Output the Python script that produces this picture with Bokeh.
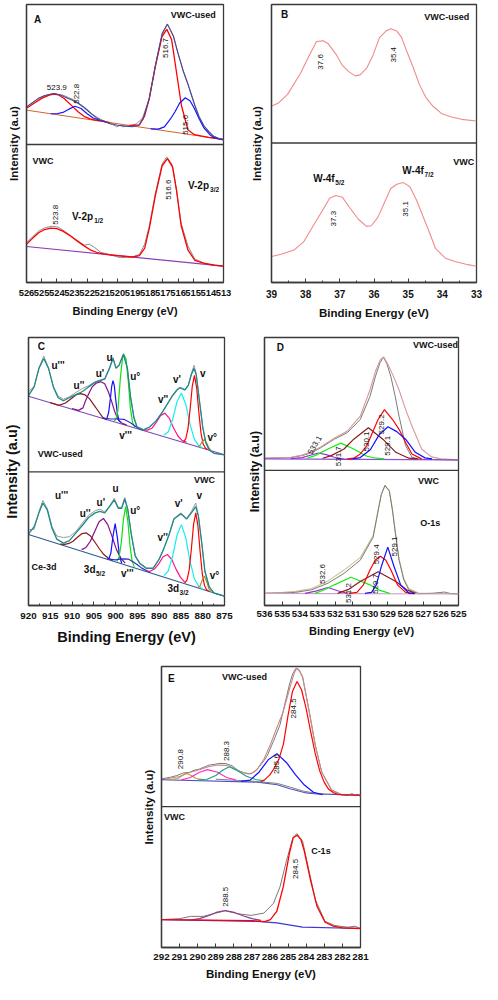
import math
from bokeh.plotting import figure
from bokeh.layouts import column, row
from bokeh.models import Range1d, FixedTicker, Span, Label, Spacer
from bokeh.embed import file_html
from bokeh.resources import INLINE

FONT = "Liberation Sans"
FRAME = "#3a3a3a"

# ---------------- Panel A : V-2p (eV, intensity a.u.) ----------------
a_ticks = [526, 525, 524, 523, 522, 521, 520, 519, 518, 517, 516, 515, 514, 513]
a_top_bg = [(526, 527), (513, 437)]
a_top_raw = [(526.0, 537), (525.6, 550), (525.2, 564), (524.5, 575), (524.2, 578), (523.9, 574), (523.6, 573),
             (523.25, 566), (522.9, 559), (522.6, 550), (522.3, 540), (522.0, 529), (521.65, 514), (521.3, 504),
             (520.9, 494), (520.5, 485), (520.3, 483), (520.05, 476), (519.8, 481), (519.6, 476), (519.4, 480),
             (519.2, 478), (518.75, 485), (518.35, 502), (517.9, 562), (517.5, 662), (517.05, 757), (516.7, 790),
             (516.3, 754), (516.0, 702), (515.65, 647), (515.35, 607), (514.9, 544), (514.6, 507), (514.3, 479),
             (513.95, 462), (513.65, 447), (513.3, 440), (513.0, 434)]
a_top_env = [(526.0, 537), (525.6, 550), (525.2, 563), (524.8, 572), (524.2, 578), (523.8, 574), (523.4, 566),
             (523.0, 558), (522.6, 548), (522.2, 535), (521.8, 519), (521.4, 504), (521.0, 493), (520.5, 486),
             (520.0, 481), (519.5, 478), (519.0, 476), (518.6, 480), (518.3, 500), (517.9, 562), (517.5, 662),
             (517.05, 762), (516.7, 790), (516.3, 752), (516.0, 700), (515.65, 645), (515.35, 607), (514.9, 542),
             (514.6, 505), (514.3, 480), (513.95, 460), (513.65, 447), (513.3, 440), (513.0, 437)]
a_top_p1 = [(526.0, 533), (525.5, 548), (525.0, 563), (524.5, 573), (524.2, 576), (523.9, 574), (523.5, 562),
            (523.0, 540), (522.6, 522), (522.2, 508), (521.8, 500), (521.4, 496), (521.0, 494), (520.5, 489)]
a_top_p2 = [(524.4, 516), (524.0, 516), (523.6, 520), (523.2, 530), (522.8, 539), (522.4, 532), (522.0, 516),
            (521.6, 503), (521.2, 496), (520.8, 492)]
a_top_p3 = [(519.2, 480), (518.55, 482), (518.2, 510), (517.9, 562), (517.5, 660), (517.06, 752), (516.74, 774),
            (516.42, 742), (516.1, 642), (515.78, 542), (515.35, 467), (514.92, 452), (514.5, 448), (514.0, 444),
            (513.5, 441), (513.0, 437)]
a_top_p4 = [(517.8, 470), (517.3, 469), (516.9, 476), (516.5, 500), (516.2, 522), (515.9, 548), (515.52, 565),
            (515.2, 555), (514.92, 532), (514.6, 500), (514.28, 472), (513.9, 452), (513.64, 443), (513.3, 439),
            (513.0, 437)]
a_bot_bg = [(526, 110), (513, 50)]
a_bot_raw = [(526.0, 122), (525.6, 140), (525.2, 157), (524.75, 168), (524.3, 172), (523.9, 169), (523.5, 157),
             (523.1, 144), (522.6, 127), (522.2, 114), (521.85, 117), (521.5, 107), (521.1, 92), (520.7, 88),
             (520.3, 82), (519.8, 76), (519.4, 77), (519.0, 78), (518.55, 86), (518.2, 117), (517.9, 172),
             (517.5, 272), (517.05, 362), (516.75, 384), (516.4, 362), (516.1, 282), (515.8, 182), (515.35, 112),
             (514.9, 72), (514.3, 59), (513.65, 52), (513.0, 50)]
a_bot_fit = [(526.0, 117), (525.6, 135), (525.2, 152), (524.8, 162), (524.4, 166), (524.0, 165), (523.6, 157),
             (523.1, 142), (522.6, 125), (522.2, 112), (521.8, 100), (521.3, 91), (520.9, 87), (520.0, 82),
             (519.0, 78), (518.55, 82), (518.2, 105), (517.9, 165), (517.5, 265), (517.05, 357), (516.7, 379),
             (516.35, 352), (516.1, 282), (515.8, 175), (515.35, 100), (514.9, 68), (514.3, 59), (513.6, 53),
             (513.0, 50)]

# ---------------- Panel B : W-4f ----------------
b_ticks = [39, 38, 37, 36, 35, 34, 33]
b_minor = [38.5, 37.5, 36.5, 35.5, 34.5, 33.5]
b_top = [(39.0, 543), (38.8, 553), (38.53, 580), (38.15, 645), (37.87, 705), (37.68, 743), (37.49, 745),
         (37.35, 737), (37.12, 705), (36.93, 670), (36.74, 650), (36.55, 637), (36.41, 640), (36.22, 660),
         (36.03, 700), (35.84, 755), (35.65, 775), (35.51, 782), (35.33, 775), (35.19, 755), (35.05, 715),
         (34.86, 665), (34.67, 610), (34.48, 570), (34.29, 545), (34.01, 520), (33.73, 510), (33.44, 503),
         (33.0, 498)]
b_bot = [(39.0, 80), (38.72, 87), (38.34, 100), (38.06, 125), (37.78, 175), (37.49, 225), (37.30, 260),
         (37.12, 268), (36.93, 263), (36.74, 235), (36.46, 195), (36.22, 173), (36.08, 175), (35.89, 200),
         (35.70, 245), (35.51, 290), (35.33, 303), (35.14, 308), (34.95, 295), (34.76, 255), (34.57, 205),
         (34.38, 155), (34.20, 105), (33.91, 75), (33.63, 65), (33.25, 55), (33.0, 50)]

# ---------------- Panel C : Ce-3d ----------------
c_ticks = [920, 915, 910, 905, 900, 895, 890, 885, 880, 875]
c_minor = [917.5, 912.5, 907.5, 902.5, 897.5, 892.5, 887.5, 882.5, 877.5]
c_top_bg = [(920, 678), (875, 488)]
c_top_env = [(920.0, 680), (918.7, 708), (917.6, 768), (916.5, 800), (915.4, 768), (914.3, 708), (913.2, 673),
             (912.0, 663), (910.6, 673), (909.1, 683), (907.6, 693), (906.2, 708), (904.7, 723), (903.6, 728),
             (902.5, 733), (901.4, 768), (900.6, 800), (899.9, 768), (899.2, 778), (898.2, 813), (897.3, 768),
             (896.6, 678), (895.8, 608), (895.1, 578), (893.6, 568), (892.2, 578), (890.7, 598), (889.2, 628),
             (888.1, 653), (887.0, 678), (885.9, 698), (885.2, 705), (884.1, 698), (883.3, 713), (882.6, 748),
             (882.0, 768), (881.5, 748), (880.8, 668), (880.0, 578), (879.3, 528), (878.5, 503), (877.4, 493),
             (875.0, 488)]
c_top_raw = [(920.0, 693), (918.7, 710), (917.6, 770), (916.5, 808), (915.4, 770), (914.3, 710), (913.2, 678),
             (912.0, 668), (910.6, 676), (909.1, 690), (907.6, 703), (906.2, 712), (904.7, 725), (903.6, 730),
             (902.5, 735), (901.4, 770), (900.6, 803), (899.9, 770), (899.2, 780), (898.2, 816), (897.3, 770),
             (896.6, 680), (895.8, 610), (895.1, 580), (893.6, 570), (892.2, 578), (890.7, 598), (889.2, 628),
             (888.1, 653), (887.0, 680), (885.9, 700), (885.2, 707), (884.1, 700), (883.3, 715), (882.6, 752),
             (882.0, 778), (881.5, 752), (880.8, 670), (880.0, 578), (879.3, 528), (878.5, 503), (877.4, 493),
             (875.0, 488)]
c_top_u2 = [(915.0, 657), (913.0, 648), (911.5, 656), (910.0, 672), (909.0, 683), (908.0, 686), (907.0, 682),
            (906.0, 670), (905.0, 650), (904.0, 630), (903.0, 610), (902.0, 602)]
c_top_u1 = [(910.0, 638), (908.5, 632), (907.5, 640), (906.9, 663), (906.2, 685), (905.4, 708), (904.5, 720),
            (903.4, 725), (902.5, 718), (901.7, 693), (901.0, 665), (900.3, 632), (899.5, 603), (898.5, 590),
            (897.5, 585)]
c_top_u = [(902.5, 604), (902.0, 606), (901.6, 625), (901.2, 670), (900.9, 710), (900.6, 728), (900.3, 712),
           (900.0, 670), (899.6, 622), (899.2, 598), (898.8, 593)]
c_top_u0 = [(900.3, 597), (899.9, 605), (899.5, 628), (898.9, 738), (898.4, 803), (898.1, 813), (897.6, 798),
            (897.1, 728), (896.6, 638), (896.1, 593), (895.6, 578)]
c_top_v3 = [(903.0, 607), (901.0, 604), (899.5, 604), (898.1, 603), (896.5, 591), (895.0, 576), (893.6, 567)]
c_top_v2 = [(893.7, 568), (892.7, 568), (891.7, 574), (890.7, 592), (889.7, 615), (888.7, 623), (887.7, 607),
            (886.7, 575), (885.7, 549), (884.7, 534), (883.7, 529)]
c_top_v1 = [(888.9, 552), (887.9, 563), (886.9, 603), (885.9, 660), (884.9, 688), (883.9, 652), (882.9, 586),
            (881.9, 538), (880.9, 518), (880.0, 509)]
c_top_v = [(884.4, 531), (883.9, 540), (883.4, 571), (882.9, 635), (882.4, 710), (881.9, 745), (881.4, 706),
           (880.9, 627), (880.4, 559), (879.9, 523), (879.4, 510), (878.9, 505)]
c_top_v0 = [(881.1, 515), (880.6, 519), (880.1, 531), (879.6, 538), (879.1, 526), (878.6, 511), (878.1, 502)]

c_bot_bg = [(920, 230), (875, 30)]
c_bot_env = [(920.0, 232), (918.7, 255), (917.6, 300), (916.7, 332), (915.7, 310), (914.6, 250), (913.5, 215),
             (912.0, 202), (910.6, 210), (909.1, 235), (907.6, 260), (906.2, 285), (904.7, 300), (903.6, 305),
             (902.5, 300), (901.4, 320), (900.3, 342), (899.4, 315), (898.6, 315), (897.9, 345), (897.2, 310),
             (896.4, 230), (895.5, 160), (894.4, 135), (892.9, 120), (891.4, 120), (890.0, 150), (888.9, 185),
             (887.7, 230), (886.6, 280), (885.0, 297), (883.7, 280), (882.6, 300), (881.6, 320), (881.0, 290),
             (880.2, 200), (879.5, 110), (878.5, 60), (877.4, 40), (875.0, 30)]
c_bot_raw = [(920.0, 245), (918.7, 247), (917.6, 305), (916.7, 340), (915.7, 315), (914.6, 255), (913.5, 225),
             (912.0, 220), (910.6, 223), (909.1, 240), (907.6, 268), (906.2, 292), (904.7, 307), (903.6, 312),
             (902.5, 303), (901.4, 322), (900.3, 347), (899.4, 318), (898.6, 318), (897.9, 350), (897.2, 312),
             (896.4, 232), (895.5, 162), (894.4, 137), (892.9, 122), (891.4, 121), (890.0, 150), (888.9, 186),
             (887.7, 232), (886.6, 282), (885.0, 300), (883.7, 282), (882.6, 305), (881.6, 332), (881.0, 292),
             (880.2, 200), (879.5, 112), (878.5, 60), (877.4, 40), (875.0, 30)]
c_bot_u2 = [(912.7, 199), (911.7, 198), (910.7, 201), (909.7, 209), (908.7, 222), (907.7, 233), (906.7, 235),
            (905.7, 224), (904.7, 204), (903.7, 183), (902.7, 165), (901.7, 154), (900.7, 146)]
c_bot_u1 = [(907.8, 181), (906.8, 188), (905.8, 208), (904.8, 240), (903.8, 271), (902.8, 282), (901.8, 262),
            (900.8, 223), (899.8, 181), (898.8, 153), (897.8, 137)]
c_bot_u = [(901.6, 150), (901.1, 169), (900.6, 225), (900.1, 265), (899.6, 220), (899.1, 160), (898.6, 137)]
c_bot_u0 = [(899.7, 143), (899.2, 157), (898.7, 203), (898.2, 279), (897.7, 320), (897.2, 275), (896.7, 194),
            (896.2, 143), (895.7, 125)]
c_bot_v3 = [(902.0, 151), (900.0, 148), (899.0, 150), (898.0, 151), (897.0, 150), (896.0, 142), (895.0, 132),
            (894.0, 121), (892.0, 107)]
c_bot_v2 = [(893.1, 111), (892.1, 111), (891.1, 118), (890.1, 135), (889.1, 158), (888.1, 165), (887.1, 149),
            (886.1, 117), (885.1, 91), (884.1, 75)]
c_bot_v1 = [(888.9, 97), (887.9, 112), (886.9, 160), (885.9, 228), (884.9, 262), (883.9, 220), (882.9, 142),
            (881.9, 86), (880.9, 62), (879.9, 52)]
c_bot_v = [(884.1, 73), (883.6, 83), (883.1, 116), (882.6, 184), (882.1, 263), (881.6, 300), (881.1, 258),
           (880.6, 175), (880.1, 103), (879.6, 65), (879.1, 51), (878.6, 46)]
c_bot_v0 = [(881.1, 58), (880.6, 63), (880.1, 83), (879.6, 95), (879.1, 78), (878.6, 55), (878.1, 45)]

# ---------------- Panel D : O-1s ----------------
d_ticks = [536, 535, 534, 533, 532, 531, 530, 529, 528, 527, 526, 525]
d_top_bg = [(536, 447), (525, 444)]
d_top_raw = [(536.0, 449), (534.5, 451), (533.87, 457), (533.3, 466), (532.77, 482), (532.04, 507), (531.3, 527),
             (530.57, 567), (530.02, 637), (529.7, 700), (529.45, 740), (529.25, 757), (529.05, 735),
             (528.83, 697), (528.6, 640), (528.37, 577), (528.0, 487), (527.64, 452), (527.2, 446), (526.5, 445),
             (525.0, 443)]
d_top_env = [(536.0, 449), (534.5, 452), (533.87, 459), (533.3, 469), (532.77, 485), (532.04, 510), (531.3, 532),
             (530.57, 577), (530.02, 657), (529.7, 715), (529.45, 748), (529.25, 758), (529.0, 735), (528.7, 700),
             (528.37, 657), (528.0, 598), (527.64, 547), (527.09, 477), (526.54, 453), (526.0, 447), (525.0, 444)]
d_top_p1 = [(534.5, 448), (533.87, 451), (533.4, 458), (532.95, 465), (532.5, 460), (532.04, 452), (531.5, 446),
            (531.0, 445)]
d_top_p2 = [(533.6, 449), (533.14, 457), (532.4, 477), (531.67, 495), (530.94, 477), (530.2, 455), (529.66, 449),
            (529.2, 447)]
d_top_p3 = [(532.7, 449), (532.22, 457), (531.49, 477), (530.94, 507), (530.11, 542), (529.29, 507),
            (528.55, 467), (527.82, 449), (527.3, 447)]
d_top_p4 = [(531.3, 447), (530.94, 449), (530.57, 462), (530.2, 487), (529.84, 532), (529.56, 567), (529.2, 597),
            (528.74, 567), (528.37, 537), (528.0, 497), (527.64, 462), (527.09, 447)]
d_top_p5 = [(531.0, 447), (530.57, 451), (530.0, 475), (529.5, 520), (529.0, 545), (528.5, 530), (528.0, 507),
            (527.45, 467), (526.9, 450), (526.5, 447)]
d_bot_bg = [(536, 37), (525, 35)]
d_bot_raw = [(536.0, 37), (534.97, 38), (534.24, 40), (533.32, 48), (532.4, 68), (531.49, 98), (530.57, 138),
             (529.84, 208), (529.56, 288), (529.38, 338), (529.17, 366), (528.92, 348), (528.74, 288),
             (528.55, 208), (528.37, 138), (528.1, 78), (527.82, 48), (527.27, 36), (526.5, 37), (525.8, 41),
             (525.5, 37), (525.0, 35)]
d_bot_env = [(536.0, 38), (534.97, 40), (534.24, 43), (533.32, 52), (532.4, 75), (531.49, 108), (530.57, 146),
             (529.84, 213), (529.56, 290), (529.38, 338), (529.17, 366), (528.92, 350), (528.74, 292),
             (528.55, 212), (528.37, 142), (528.1, 82), (527.82, 52), (527.27, 38), (525.0, 36)]
d_bot_p1 = [(533.7, 37), (533.1, 44), (532.4, 55), (531.85, 45), (531.3, 37)]
d_bot_p2 = [(533.14, 37), (532.6, 48), (532.04, 63), (531.1, 86), (530.02, 63), (529.5, 47), (528.9, 37)]
d_bot_p3 = [(531.85, 37), (531.2, 50), (530.57, 73), (529.56, 103), (528.55, 73), (527.95, 48), (527.45, 37)]
d_bot_p4 = [(531.2, 37), (530.76, 40), (530.39, 63), (530.02, 108), (529.72, 138), (529.43, 150), (529.12, 138),
            (528.83, 108), (528.46, 63), (528.0, 40), (527.6, 37)]
d_bot_p5 = [(530.3, 37), (529.93, 40), (529.66, 63), (529.38, 118), (529.01, 178), (528.65, 118), (528.28, 63),
            (527.82, 38), (527.5, 36)]

# ---------------- Panel E : C-1s ----------------
e_ticks = [292, 291, 290, 289, 288, 287, 286, 285, 284, 283, 282, 281]
e_top_bg = [(292.0, 512), (286.7, 505), (285.6, 497), (284.9, 485), (284.0, 472), (283.4, 469), (281.0, 465)]
e_top_shirley = [(289.0, 514), (287.0, 508), (285.6, 501), (284.9, 490), (284.2, 478), (283.4, 470),
                 (283.0, 468)]
e_top_raw = [(292.0, 515), (291.5, 520), (291.15, 525), (290.8, 533), (290.43, 535), (290.26, 540), (289.9, 545),
             (289.37, 557), (289.0, 560), (288.83, 562), (288.48, 562), (288.1, 555), (287.76, 540), (287.4, 533),
             (287.05, 530), (286.7, 545), (286.34, 570), (286.16, 585), (285.81, 630), (285.45, 680),
             (285.09, 765), (284.92, 805), (284.74, 837), (284.56, 853), (284.38, 845), (284.2, 825),
             (283.85, 725), (283.49, 615), (283.14, 535), (282.6, 480), (282.07, 467), (281.71, 465),
             (281.45, 470), (281.3, 463), (281.15, 468), (281.0, 460)]
e_top_env = [(292.0, 512), (291.0, 522), (290.4, 535), (289.9, 543), (289.4, 552), (288.9, 557), (288.4, 556),
             (288.0, 548), (287.6, 536), (287.2, 530), (286.9, 535), (286.7, 545), (286.34, 575), (285.98, 620),
             (285.63, 670), (285.27, 720), (284.92, 790), (284.65, 840), (284.52, 853), (284.38, 847),
             (284.2, 827), (283.85, 725), (283.49, 615), (283.14, 535), (282.6, 482), (282.07, 468), (281.0, 465)]
e_top_p1 = [(291.6, 512), (291.1, 516), (290.85, 525), (290.65, 532), (290.35, 525), (290.1, 516), (289.6, 512)]
e_top_p2 = [(290.9, 512), (290.4, 519), (289.9, 535), (289.45, 543), (288.9, 535), (288.4, 519), (287.9, 512)]
e_top_p3 = [(290.0, 511), (289.5, 513), (289.0, 525), (288.6, 542), (288.25, 552), (287.8, 540), (287.3, 523),
            (286.8, 513), (286.3, 509)]
e_top_p4 = [(287.6, 507), (287.1, 511), (286.6, 536), (286.1, 573), (285.62, 592), (285.1, 565), (284.6, 528),
            (284.1, 496), (283.6, 474), (283.1, 467)]
e_top_p5 = [(286.5, 506), (286.26, 514), (286.01, 527), (285.76, 548), (285.51, 575), (285.26, 621),
            (285.01, 707), (284.76, 782), (284.51, 812), (284.26, 787), (284.01, 731), (283.76, 661),
            (283.51, 594), (283.26, 540), (283.01, 505), (282.76, 483), (282.51, 473), (282.26, 468),
            (282.0, 466), (281.0, 465)]
e_bot_bg = [(292.0, 85), (286.7, 80), (285.63, 75), (284.2, 62), (281.0, 58)]
e_bot_raw = [(292.0, 85), (291.0, 88), (290.4, 95), (289.7, 95), (289.0, 105), (288.48, 112), (287.76, 103),
             (287.05, 98), (286.34, 105), (285.81, 135), (285.45, 185), (285.09, 265), (284.74, 335),
             (284.52, 348), (284.2, 325), (283.85, 235), (283.49, 145), (282.96, 80), (282.42, 67), (281.71, 62),
             (281.3, 65), (281.0, 58)]
e_bot_fit = [(292.0, 85), (287.0, 82), (286.3, 79), (285.98, 85), (285.63, 110), (285.27, 185), (284.92, 290),
             (284.72, 335), (284.51, 343), (284.3, 330), (284.11, 295), (283.76, 205), (283.4, 125), (282.96, 77),
             (282.5, 65), (282.0, 60), (281.0, 58)]
e_bot_p1 = [(290.4, 84), (289.9, 88), (289.4, 97), (288.98, 107), (288.48, 113), (287.98, 107), (287.5, 97),
            (287.0, 88), (286.5, 83)]

# ---------------- text annotations (text, x, y, angle, size, bold, align) ----------------
a_notes = [("A", 525.5, 805, 0, 10, True, "left"), ("VWC-used", 515.0, 817, 0, 9, True, "center"),
           ("523.9", 524.0, 597, 0, 8, False, "center"), ("522.8", 522.67, 577, 90, 8, False, "center"),
           ("516.7", 516.8, 717, 90, 8, False, "center"), ("515.6", 515.52, 482, 90, 8, False, "center"),
           ("VWC", 525.6, 372, 0, 9, True, "left"), ("523.8", 524.1, 207, 90, 8, False, "center"),
           ("516.6", 516.63, 284, 90, 8, False, "center")]
a_subs = [("V-2p", "1/2", 523.0, 202), ("V-2p", "3/2", 515.35, 297)]
b_notes = [("B", 38.72, 827, 0, 10, True, "left"), ("VWC-used", 33.87, 820, 0, 9, True, "center"),
           ("37.6", 37.56, 680, 90, 8, False, "center"), ("35.4", 35.42, 702, 90, 8, False, "center"),
           ("VWC", 33.37, 373, 0, 9, True, "center"), ("37.3", 37.18, 197, 90, 8, False, "center"),
           ("35.1", 35.09, 227, 90, 8, False, "center")]
b_subs = [("W-4f", "5/2", 37.78, 320), ("W-4f", "7/2", 35.17, 345)]
c_notes = [("C", 917.9, 840, 0, 10, True, "left"), ("u'''", 913.2, 778, 0, 10, True, "center"),
           ("u''", 908.4, 713, 0, 10, True, "center"), ("u'", 903.6, 750, 0, 10, True, "center"),
           ("u", 901.4, 803, 0, 10, True, "center"), ("u°", 895.5, 743, 0, 10, True, "center"),
           ("v''", 889.1, 668, 0, 10, True, "center"), ("v'", 885.9, 733, 0, 10, True, "center"),
           ("v", 880.0, 750, 0, 10, True, "center"), ("v'''", 897.7, 550, 0, 10, True, "center"),
           ("v°", 877.8, 543, 0, 10, True, "center"), ("VWC-used", 917.9, 490, 0, 9, True, "left"),
           ("VWC", 879.6, 408, 0, 9, True, "center"), ("u'''", 912.4, 355, 0, 10, True, "center"),
           ("u''", 907.0, 298, 0, 10, True, "center"), ("u'", 903.4, 335, 0, 10, True, "center"),
           ("u", 900.0, 378, 0, 10, True, "center"), ("u°", 895.5, 308, 0, 10, True, "center"),
           ("v''", 889.2, 220, 0, 10, True, "center"), ("v'", 885.5, 330, 0, 10, True, "center"),
           ("v", 880.8, 355, 0, 10, True, "center"), ("Ce-3d", 919.3, 125, 0, 9, True, "left"),
           ("v'''", 897.3, 105, 0, 10, True, "center"), ("v°", 877.3, 98, 0, 10, True, "center")]
c_subs = [("3d", "5/2", 907.3, 115), ("3d", "3/2", 888.1, 55)]
d_notes = [("D", 535.3, 786, 0, 10, True, "left"), ("VWC-used", 526.3, 795, 0, 9, True, "center"),
           ("533.1", 533.14, 489, 60, 8, False, "center"), ("531.7", 531.82, 455, 90, 8, False, "center"),
           ("530.1", 530.24, 500, 90, 8, False, "center"), ("529.2", 529.35, 552, 90, 8, False, "center"),
           ("529.1", 529.0, 487, 90, 8, False, "center"), ("VWC", 526.7, 380, 0, 9, True, "center"),
           ("O-1s", 526.6, 253, 0, 9, True, "center"), ("532.6", 532.7, 96, 90, 8, False, "center"),
           ("531.2", 531.26, 38, 90, 8, False, "center"), ("529.7", 529.7, 66, 90, 8, False, "center"),
           ("529.4", 529.66, 156, 90, 8, False, "center"), ("529.1", 528.65, 180, 90, 8, False, "center")]
e_notes = [("E", 291.64, 820, 0, 10, True, "left"), ("VWC-used", 287.41, 825, 0, 9, True, "center"),
           ("290.8", 290.93, 575, 90, 8, False, "center"), ("288.3", 288.39, 600, 90, 8, False, "center"),
           ("285.6", 285.66, 560, 90, 8, False, "center"), ("284.5", 284.68, 730, 90, 8, False, "center"),
           ("VWC", 291.86, 397, 0, 9, True, "left"), ("C-1s", 283.19, 295, 0, 9, True, "center"),
           ("284.5", 284.61, 240, 90, 8, False, "center"), ("288.5", 288.48, 155, 90, 8, False, "center")]


def panel(width, height, borders, xr, yr, ticks, minor, xtitle_fs, ytitle_fs, tick_fs,
          tick_standoff, xlab_standoff, ylab_standoff, divider):
    l, r, t, b = borders
    p = figure(width=width, height=height, x_range=Range1d(*xr), y_range=Range1d(*yr),
               output_backend="svg", toolbar_location=None,
               min_border_left=l, min_border_right=r, min_border_top=t, min_border_bottom=b)
    p.xgrid.visible = False
    p.ygrid.visible = False
    p.background_fill_color = "white"
    p.border_fill_color = "white"
    p.outline_line_color = FRAME
    p.outline_line_width = 1.3
    p.outline_line_alpha = 1.0
    xa = p.xaxis[0]
    xa.ticker = FixedTicker(ticks=ticks, minor_ticks=minor)
    xa.axis_label = "Binding Energy (eV)"
    xa.axis_label_text_font = FONT
    xa.axis_label_text_font_style = "bold"
    xa.axis_label_text_font_size = f"{xtitle_fs}px"
    xa.axis_label_text_color = "#111111"
    xa.axis_label_standoff = xlab_standoff
    xa.major_label_text_font = FONT
    xa.major_label_text_font_style = "bold"
    xa.major_label_text_font_size = f"{tick_fs}px"
    xa.major_label_text_color = "#111111"
    xa.major_label_standoff = tick_standoff
    xa.major_tick_in = 4
    xa.major_tick_out = 0
    xa.minor_tick_in = 2
    xa.minor_tick_out = 0
    xa.axis_line_color = FRAME
    xa.axis_line_width = 1.3
    xa.major_tick_line_color = FRAME
    xa.minor_tick_line_color = FRAME
    ya = p.yaxis[0]
    ya.ticker = FixedTicker(ticks=[])
    ya.axis_label = "Intensity (a.u)"
    ya.axis_label_text_font = FONT
    ya.axis_label_text_font_style = "bold"
    ya.axis_label_text_font_size = f"{ytitle_fs}px"
    ya.axis_label_text_color = "#111111"
    ya.axis_label_standoff = ylab_standoff
    ya.major_label_standoff = 0
    ya.major_tick_in = 0
    ya.major_tick_out = 0
    ya.minor_tick_in = 0
    ya.minor_tick_out = 0
    ya.axis_line_color = FRAME
    ya.axis_line_width = 1.3
    p.add_layout(Span(location=divider, dimension="width", line_color=FRAME, line_width=1.3))
    return p


def curve(p, pairs, color, width=1.0):
    xs = [a for a, _ in pairs]
    ys = [b for _, b in pairs]
    p.line(xs, ys, line_color=color, line_width=width)


def notes(p, items):
    for text, x, y, ang, size, bold, align in items:
        p.add_layout(Label(x=x, y=y, text=text, angle=math.radians(ang), text_align=align,
                           text_baseline="middle", text_font=FONT, text_font_size=f"{size}px",
                           text_font_style="bold" if bold else "normal", text_color="#111111"))


def sub_notes(p, items, size=10, sub_size=6.5):
    for main, sub, x, y in items:
        p.add_layout(Label(x=x, y=y, text=main, text_align="left", text_baseline="middle",
                           text_font=FONT, text_font_size=f"{size}px", text_font_style="bold",
                           text_color="#111111"))
        w = sum({"V": .667, "-": .333, "2": .556, "p": .611, "W": .944, "4": .556, "f": .333,
                 "3": .556, "d": .611}.get(ch, .56) for ch in main) * size
        p.add_layout(Label(x=x, y=y, x_offset=w + 0.5, y_offset=-4, text=sub, text_align="left",
                           text_baseline="middle", text_font=FONT, text_font_size=f"{sub_size}px",
                           text_font_style="bold", text_color="#111111"))


GREY = "#8a8a8a"

# Panel A
pa = panel(242, 321, (26, 19, 4, 39), (526, 513), (0, 850), a_ticks, [], 11, 11.5, 9.4, 7, 6, 7, 422)
curve(pa, a_top_raw, GREY)
curve(pa, a_top_bg, "#d0642e")
curve(pa, a_top_p1, "#ff0000", 1.3)
curve(pa, a_top_p3, "#ff0000", 1.3)
curve(pa, a_top_p2, "#1414ff", 1.2)
curve(pa, a_top_p4, "#1414ff", 1.2)
curve(pa, a_top_env, "#48489a", 1.1)
curve(pa, a_bot_raw, GREY)
curve(pa, a_bot_bg, "#8c3cb4", 1.2)
curve(pa, a_bot_fit, "#ff0000", 1.3)
notes(pa, a_notes)
sub_notes(pa, a_subs)

# Panel B
pb = panel(240, 321, (29, 6, 3, 38), (39, 33), (0, 857), b_ticks, b_minor, 11.5, 11.5, 10, 7, 6, 9, 430)
curve(pb, b_top, "#f28a8a", 1.1)
curve(pb, b_bot, "#f28a8a", 1.1)
notes(pb, b_notes)
sub_notes(pb, b_subs)

# Panel C
pc = panel(242, 336, (26, 18, 7, 44), (920, 875), (0, 868), c_ticks, c_minor, 14.5, 14.5, 9.8, 7, 7, 9, 433)
curve(pc, c_top_raw, "#9a9a9a")
curve(pc, c_top_bg, "#7a4ab8", 1.1)
for pairs, col in [(c_top_u2, "#8b1a1a"), (c_top_u1, "#8b108b"), (c_top_u, "#1010ff"), (c_top_u0, "#10e010"),
                   (c_top_v3, "#3030c8"), (c_top_v2, "#ff1488"), (c_top_v1, "#10f0f0"), (c_top_v, "#ff0000"),
                   (c_top_v0, "#a89030")]:
    curve(pc, pairs, col, 1.2)
curve(pc, c_top_env, "#1f8a8a", 1.3)
curve(pc, c_bot_raw, "#9a9a9a")
curve(pc, c_bot_bg, "#2f5a96", 1.1)
for pairs, col in [(c_bot_u2, "#8b1a1a"), (c_bot_u1, "#8b108b"), (c_bot_u, "#1010ff"), (c_bot_u0, "#10e010"),
                   (c_bot_v3, "#3030c8"), (c_bot_v2, "#ff1488"), (c_bot_v1, "#10f0f0"), (c_bot_v, "#ff0000"),
                   (c_bot_v0, "#a89030")]:
    curve(pc, pairs, col, 1.2)
curve(pc, c_bot_env, "#1f8a8a", 1.3)
notes(pc, c_notes)
sub_notes(pc, c_subs)

# Panel D
pd_ = panel(240, 336, (22, 24, 16, 52), (536, 525), (0, 817), d_ticks, [], 11, 12.5, 9.6, 5, 5, 3, 412)
curve(pd_, d_top_raw, "#7a7a7a")
curve(pd_, d_top_env, "#d49a9a", 1.1)
curve(pd_, d_top_bg, "#9050d0", 1.1)
for pairs, col in [(d_top_p1, "#9932cc"), (d_top_p2, "#10f010"), (d_top_p3, "#8b1a1a"), (d_top_p4, "#ff0000"),
                   (d_top_p5, "#1010ff")]:
    curve(pd_, pairs, col, 1.2)
curve(pd_, d_bot_env, "#cfc490", 1.1)
curve(pd_, d_bot_raw, "#7a7a7a")
curve(pd_, d_bot_bg, "#c8a0c8", 1.1)
for pairs, col in [(d_bot_p1, "#9932cc"), (d_bot_p2, "#10f010"), (d_bot_p3, "#8b1a1a"), (d_bot_p4, "#ff0000"),
                   (d_bot_p5, "#1010ff")]:
    curve(pd_, pairs, col, 1.2)
notes(pd_, d_notes)

# Panel E
pe = panel(250, 325, (26, 25, 9, 35), (292, 281), (0, 858), e_ticks, [], 11.5, 11.5, 9.8, 6, 5, 7, 430)
curve(pe, e_top_raw, "#7a7a7a")
curve(pe, e_top_env, "#c88c8c", 1.1)
curve(pe, e_top_bg, "#5050c0", 1.1)
curve(pe, e_top_shirley, "#808080", 1.0)
for pairs, col in [(e_top_p1, "#b4a050"), (e_top_p2, "#ff30c0"), (e_top_p3, "#20a08c"), (e_top_p4, "#1010ff"),
                   (e_top_p5, "#ff0000")]:
    curve(pe, pairs, col, 1.2)
curve(pe, e_bot_raw, "#7a7a7a")
curve(pe, e_bot_bg, "#3a3ad0", 1.2)
curve(pe, e_bot_p1, "#8b3a8b", 1.2)
curve(pe, e_bot_fit, "#ff0000", 1.3)
notes(pe, e_notes)

layout = column(row(pa, pb), row(pc, pd_), row(Spacer(width=135, height=325), pe))
open("out.html", "w").write(file_html(layout, INLINE))
